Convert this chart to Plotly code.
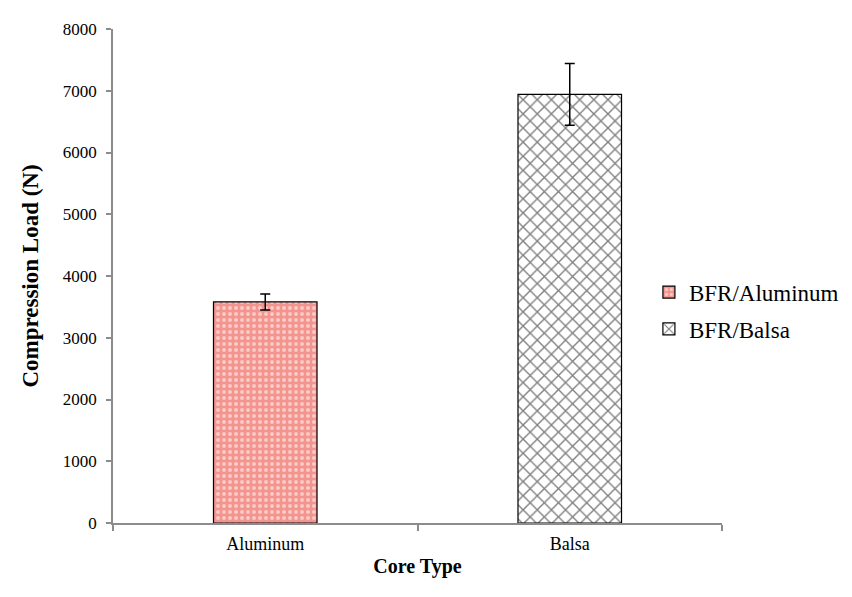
import plotly.graph_objects as go

categories = ["Aluminum", "Balsa"]
series_names = ["BFR/Aluminum", "BFR/Balsa"]
loads = [3580, 6940]
errors = [130, 500]
y_ticks = [0, 1000, 2000, 3000, 4000, 5000, 6000, 7000, 8000]

FONT = "Liberation Serif"

fig = go.Figure()
styles = [
    dict(color="#f3948e", pattern=dict(shape=".", fgcolor="white", size=6, solidity=0.35)),
    dict(color="white", pattern=dict(shape="x", fgcolor="black", size=10, solidity=0.25)),
]
for i in range(2):
    fig.add_trace(go.Bar(
        x=[categories[i]], y=[loads[i]],
        name=series_names[i],
        legendgroup=series_names[i],
        marker=dict(color=styles[i]["color"], pattern=styles[i]["pattern"],
                    line=dict(color="black", width=1.2)),
        error_y=dict(type="data", array=[errors[i]], visible=True,
                     color="black", thickness=1.5, width=5),
    ))

fig.update_layout(
    width=852, height=597,
    barmode="overlay", bargap=0.66,
    plot_bgcolor="white", paper_bgcolor="white",
    margin=dict(l=105, r=138, t=19, b=82),
    font=dict(family=FONT, color="black"),
    showlegend=True,
    legend=dict(x=0.88, y=0.43, xanchor="left", yanchor="middle",
                font=dict(size=23, family=FONT, color="black"), tracegroupgap=4,
                bgcolor="rgba(0,0,0,0)", itemwidth=30),
)
fig.update_yaxes(
    range=[0, 8000], tickvals=y_ticks, ticktext=[str(v) for v in y_ticks],
    showline=True, linecolor="#8c8c8c", linewidth=1.5,
    ticks="outside", ticklen=5, tickcolor="#8c8c8c", tickwidth=1.5,
    showgrid=False, zeroline=False,
    tickfont=dict(size=17, family=FONT), ticklabelstandoff=6,
    title=dict(text="<b>Compression Load (N)</b>", font=dict(size=23, family=FONT), standoff=18),
)
fig.update_xaxes(
    categoryorder="array", categoryarray=categories,
    showline=True, linecolor="#8c8c8c", linewidth=1.5,
    ticks="outside", ticklen=6, tickcolor="#8c8c8c", tickwidth=1.5, tickson="boundaries",
    showgrid=False, zeroline=False,
    tickfont=dict(size=18, family=FONT), ticklabelstandoff=4,
    title=dict(text="<b>Core Type</b>", font=dict(size=20, family=FONT), standoff=6),
)

fig.write_html("out.html")
